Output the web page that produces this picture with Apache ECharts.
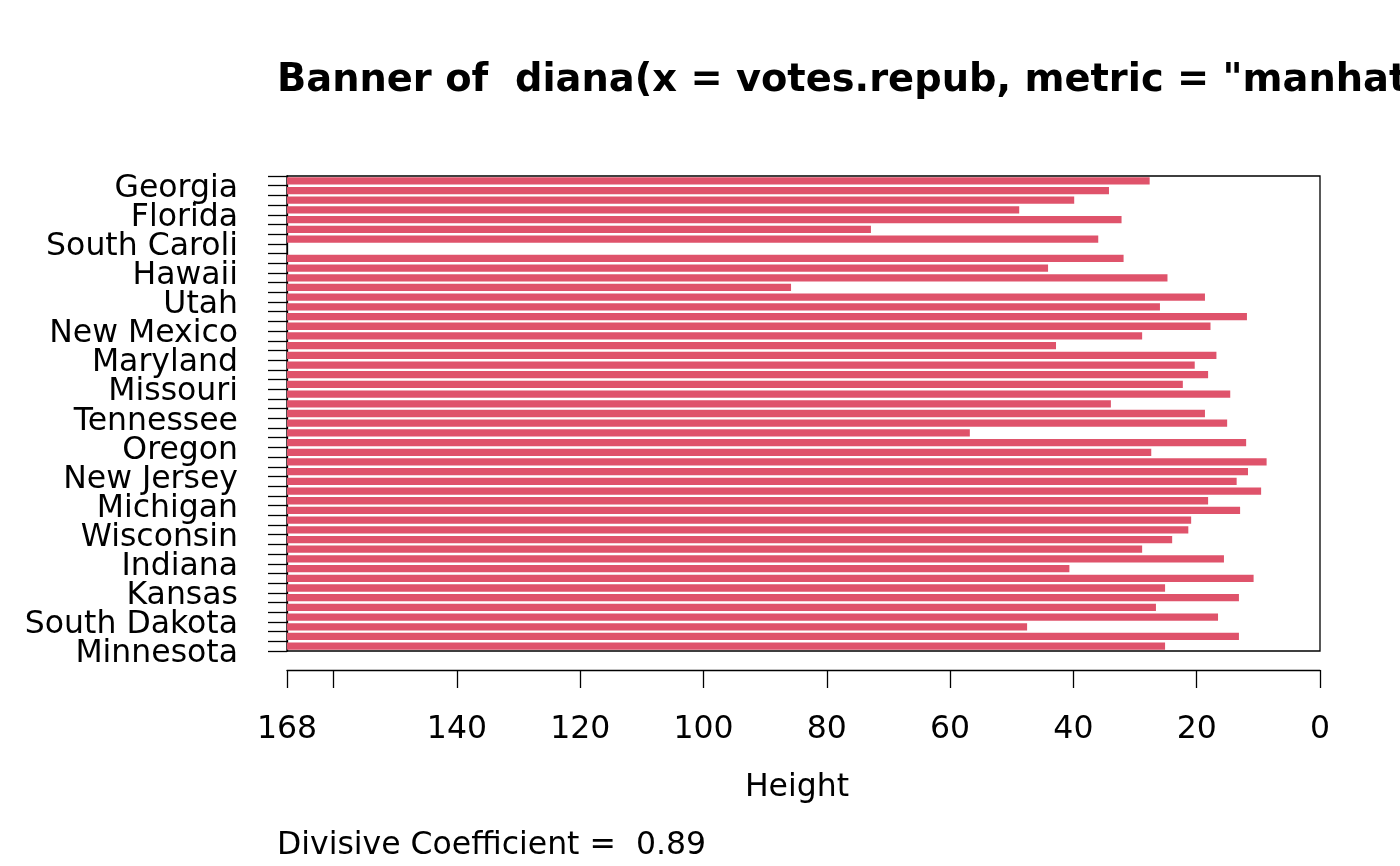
<!DOCTYPE html>
<html>
<head>
<meta charset="utf-8">
<script src="https://cdn.jsdelivr.net/npm/echarts@6/dist/echarts.min.js"></script>
<style>
html,body{margin:0;padding:0;background:#fff;}
#chart{width:1400px;height:866px;}
</style>
</head>
<body>
<div id="chart"></div>
<script>
// Banner heights, bars listed from top to bottom
const heights = [27.63, 34.23, 39.87, 48.79, 32.19, 72.84, 35.97, 167.56, 31.86, 44.11,
  24.74, 85.80, 18.66, 25.96, 11.85, 17.76, 28.85, 42.82, 16.80, 20.32,
  18.15, 22.25, 14.56, 33.92, 18.66, 15.06, 56.80, 11.98, 27.37, 8.66,
  11.68, 13.52, 9.55, 18.15, 12.96, 20.90, 21.36, 23.98, 28.85, 15.58,
  40.65, 10.77, 25.13, 13.15, 26.61, 16.54, 47.51, 13.15, 25.13];
const maxHeight = 167.56;
// Visible observation labels, bottom to top (every 3rd observation)
const stateLabels = ["Minnesota", "South Dakota", "Kansas", "Indiana", "Wisconsin", "Michigan",
  "New Jersey", "Oregon", "Tennessee", "Missouri", "Maryland", "New Mexico", "Utah",
  "Hawaii", "South Caroli", "Florida", "Georgia"];
const labelStep = 3;
const xTickLabels = {"167.56": "168", "160": ""};
const mainTitle = 'Banner of  diana(x = votes.repub, metric = "manhattan", stand = TRUE)';
const xTitle = "Height";
const subTitle = "Divisive Coefficient =  0.89";

const nObs = heights.length + 1;
const barCats = heights.map((_, i) => String(i + 1));
const labelAt = {};
stateLabels.forEach((s, i) => { labelAt[i * labelStep] = s; });

const FONT = '"DejaVu Sans", sans-serif';
const FS = 31.5;
const chart = echarts.init(document.getElementById('chart'));
chart.setOption({
  animation: false,
  backgroundColor: '#fff',
  grid: {left: 287, right: 80, top: 176, bottom: 215, show: true, borderColor: '#000', borderWidth: 1.3, backgroundColor: 'transparent'},
  xAxis: {
    type: 'value', inverse: true, min: 0, max: maxHeight, interval: 20,
    offset: 19, position: 'bottom',
    axisLine: {show: true, onZero: false, lineStyle: {color: '#000', width: 1.3}},
    axisTick: {show: true, length: 18, lineStyle: {color: '#000', width: 1.3}},
    splitLine: {show: false},
    axisLabel: {
      color: '#000', fontFamily: FONT, fontSize: FS, margin: 44,
      formatter: function (v) {
        const k = String(Math.round(v * 100) / 100);
        if (k in xTickLabels) return xTickLabels[k];
        return String(v);
      }
    }
  },
  yAxis: [
    {type: 'category', data: barCats, inverse: true, show: false},
    {
      type: 'value', min: 0, max: nObs - 1, interval: 1, position: 'left',
      axisLine: {show: true, onZero: false, lineStyle: {color: '#000', width: 1.3}},
      axisTick: {show: true, length: 19, lineStyle: {color: '#000', width: 1.3}},
      splitLine: {show: false},
      axisLabel: {
        color: '#000', fontFamily: FONT, fontSize: FS, margin: 49,
        formatter: function (v) { const s = labelAt[Math.round(v)]; return s ? '{s|' + s + '}' : ''; },
        rich: {s: {fontFamily: FONT, fontSize: FS, color: '#000', padding: [6, 0, 0, 0]}}
      }
    }
  ],
  series: [
    {type: 'bar', stack: 'b', yAxisIndex: 0, data: heights, barCategoryGap: '25%',
     itemStyle: {color: 'rgba(0,0,0,0)'}, silent: true},
    {type: 'bar', stack: 'b', yAxisIndex: 0, data: heights.map(h => maxHeight - h), barCategoryGap: '25%',
     itemStyle: {color: '#DF536B'}}
  ],
  graphic: [
    {type: 'text', left: 277, top: 62, style: {text: mainTitle, font: 'bold 38.4px ' + FONT, fill: '#000'}},
    {type: 'text', x: 797, y: 788, style: {text: xTitle, font: FS + 'px ' + FONT, fill: '#000', textAlign: 'center', textVerticalAlign: 'middle'}},
    {type: 'text', x: 277, y: 846, style: {text: subTitle, font: FS + 'px ' + FONT, fill: '#000', textAlign: 'left', textVerticalAlign: 'middle'}}
  ]
});
</script>
</body>
</html>
